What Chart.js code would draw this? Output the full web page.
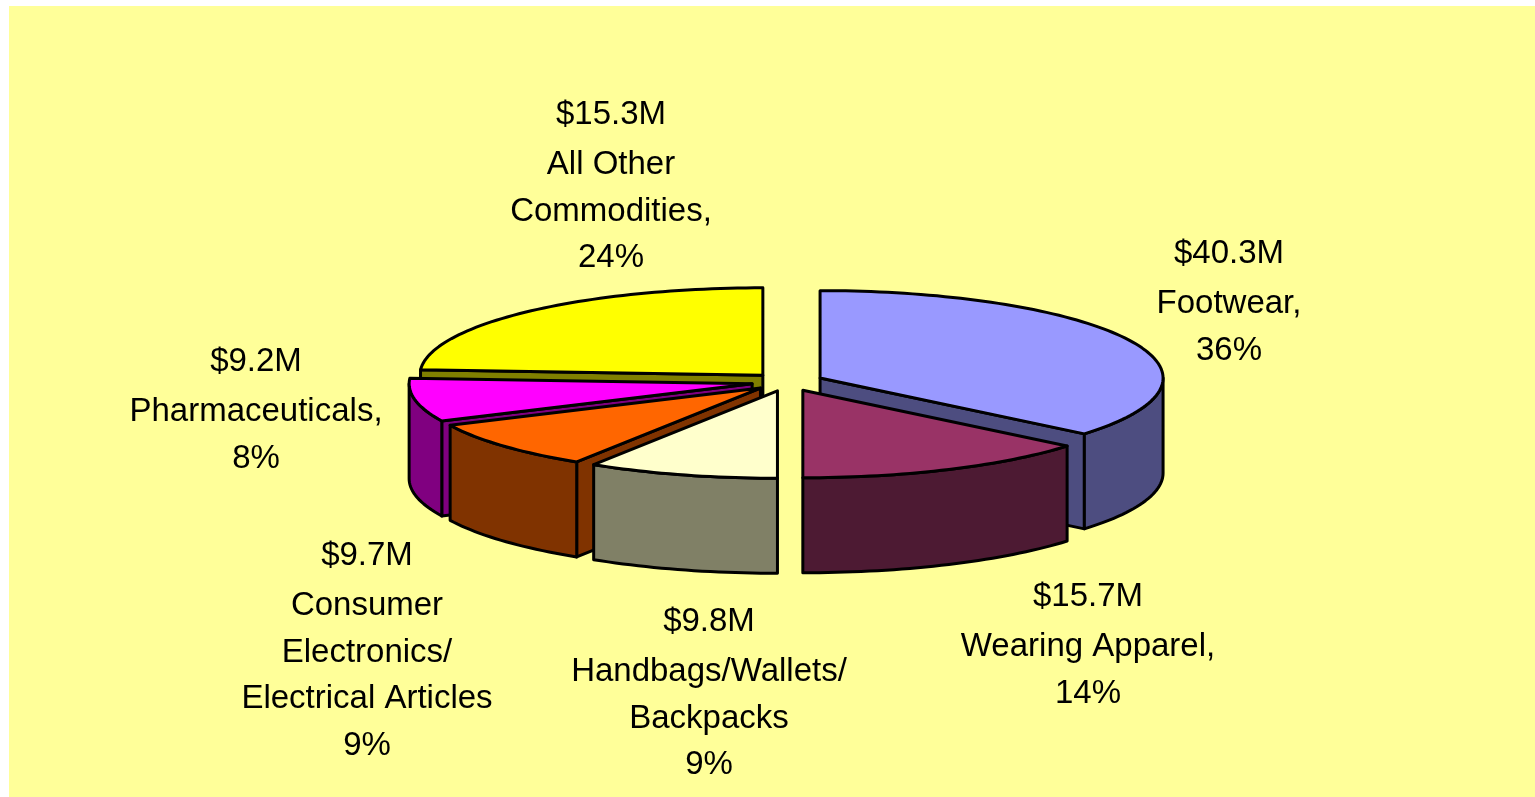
<!DOCTYPE html>
<html>
<head>
<meta charset="utf-8">
<title>Seizures by commodity</title>
<script src="https://cdn.jsdelivr.net/npm/chart.js@4/dist/chart.umd.min.js"></script>
<style>
  html, body { margin: 0; padding: 0; background: #fff; overflow: hidden; }
  #panel { position: absolute; left: 9px; top: 6px; right: 0; bottom: 0; background: #ffff99; }
  #pie { position: absolute; left: 0; top: 0; }
</style>
</head>
<body>
<div id="panel"></div>
<canvas id="pie" width="1535" height="797"></canvas>
<script>
// values
const categories = ["Footwear", "Wearing Apparel", "Handbags/Wallets/Backpacks", "Consumer Electronics/Electrical Articles", "Pharmaceuticals", "All Other Commodities"];
const shares = [36, 14, 9, 9, 8, 24];
const dollars = ["$40.3M", "$15.7M", "$9.8M", "$9.7M", "$9.2M", "$15.3M"];
const nameLines = [
  ["Footwear,"],
  ["Wearing Apparel,"],
  ["Handbags/Wallets/", "Backpacks"],
  ["Consumer", "Electronics/", "Electrical Articles"],
  ["Pharmaceuticals,"],
  ["All Other", "Commodities,"]
];

const topColors = ["#9999ff", "#993366", "#ffffcc", "#ff6600", "#ff00ff", "#ffff00"];
const sideColors = ["#4d4d80", "#4d1a33", "#808066", "#803300", "#800080", "#808000"];

// label placement: centre x, first baseline
const labelX = [1229, 1088, 709, 367, 256, 611];
const labelY = [263, 606, 631, 565, 371, 124];

const squash = 0.255;  // pie seen at a low angle
const depth = 95;      // height of the extruded walls
const explode = 36;    // how far each slice is pulled out

function arcPoint(arc, angle, r, drop) {
  const mid = (arc.startAngle + arc.endAngle) / 2;
  return [
    arc.x + (Math.cos(mid) * explode + Math.cos(angle) * r),
    arc.y + (Math.sin(mid) * explode * squash + Math.sin(angle) * r * squash) + drop
  ];
}

function rimPoints(arc, from, to, drop) {
  const pts = [];
  const steps = Math.max(2, Math.ceil((to - from) * 40));
  for (let i = 0; i <= steps; i++) {
    pts.push(arcPoint(arc, from + (to - from) * i / steps, arc.outerRadius, drop));
  }
  return pts;
}

function fillPoly(ctx, pts, color) {
  ctx.beginPath();
  pts.forEach((p, i) => i ? ctx.lineTo(p[0], p[1]) : ctx.moveTo(p[0], p[1]));
  ctx.closePath();
  ctx.fillStyle = color;
  ctx.fill();
  ctx.stroke();
}

function drawSlice(ctx, arc, i) {
  const start = arc.startAngle;
  const end = arc.endAngle;
  const apex = arcPoint(arc, start, 0, 0);
  const apexLow = arcPoint(arc, start, 0, depth);

  // cut faces, only the ones turned towards the viewer
  if (Math.cos(start) < -1e-6) {
    fillPoly(ctx, [apex, arcPoint(arc, start, arc.outerRadius, 0), arcPoint(arc, start, arc.outerRadius, depth), apexLow], sideColors[i]);
  }
  if (Math.cos(end) > 1e-6) {
    fillPoly(ctx, [apex, arcPoint(arc, end, arc.outerRadius, 0), arcPoint(arc, end, arc.outerRadius, depth), apexLow], sideColors[i]);
  }

  // outer wall, front half only
  const from = Math.max(start, 0);
  const to = Math.min(end, Math.PI);
  if (to > from) {
    const upper = rimPoints(arc, from, to, 0);
    const lower = rimPoints(arc, from, to, depth).reverse();
    fillPoly(ctx, upper.concat(lower), sideColors[i]);
  }

  // top face
  fillPoly(ctx, [apex].concat(rimPoints(arc, start, end, 0)), topColors[i]);
}

function drawLabels(ctx) {
  ctx.fillStyle = "#000";
  ctx.font = "33px 'Liberation Sans'";
  ctx.letterSpacing = "0px";
  ctx.textAlign = "center";
  ctx.textBaseline = "alphabetic";
  categories.forEach((name, i) => {
    const lines = [dollars[i]].concat(nameLines[i], shares[i] + "%");
    let y = labelY[i];
    lines.forEach((line, n) => {
      ctx.fillText(line, labelX[i], y);
      y += n === 0 ? 50 : 46.5;
    });
  });
}

const pie3d = {
  id: "pie3d",
  beforeDatasetDraw(chart, args) {
    const ctx = chart.ctx;
    const arcs = args.meta.data;
    // paint from the back of the pie to the front
    const order = arcs.map((a, i) => i).sort((a, b) => {
      const midA = (arcs[a].startAngle + arcs[a].endAngle) / 2;
      const midB = (arcs[b].startAngle + arcs[b].endAngle) / 2;
      return Math.sin(midA) - Math.sin(midB);
    });
    ctx.save();
    ctx.strokeStyle = "#000";
    ctx.lineWidth = 3;
    ctx.lineJoin = "round";
    order.forEach(i => drawSlice(ctx, arcs[i], i));
    drawLabels(ctx);
    ctx.restore();
    return false;
  }
};

new Chart(document.getElementById("pie"), {
  type: "pie",
  data: {
    labels: categories,
    datasets: [{ data: shares, backgroundColor: topColors, borderColor: "#000", borderWidth: 3 }]
  },
  options: {
    responsive: false,
    animation: false,
    radius: 343,
    layout: { padding: { left: 40, bottom: 33 } },
    plugins: { legend: { display: false }, tooltip: { enabled: false } }
  },
  plugins: [pie3d]
});
</script>
</body>
</html>
